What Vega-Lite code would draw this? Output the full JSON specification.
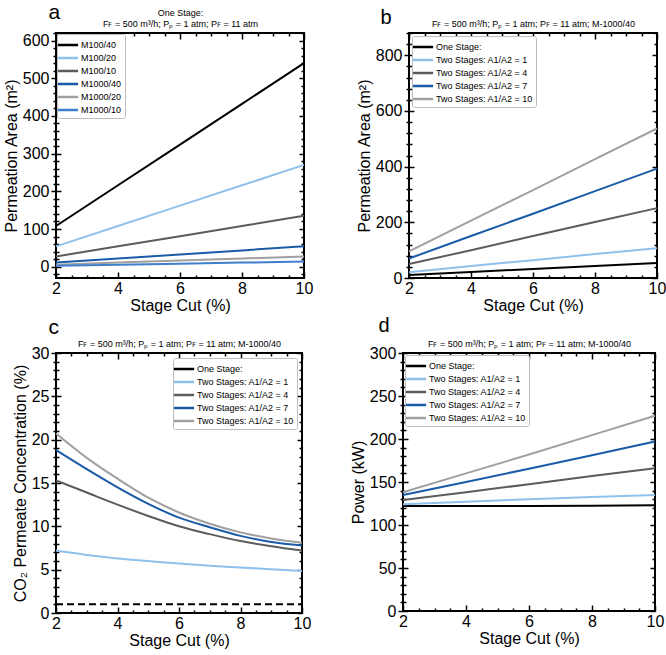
{
  "$schema": "https://vega.github.io/schema/vega-lite/v6.json",
  "padding": {"left": 2, "top": 0, "right": 0, "bottom": 0},
  "background": "white",
  "datasets": {
    "pa": [
      {"x": 2, "s": "M100/40", "y": 108}, {"x": 4, "s": "M100/40", "y": 216}, {"x": 6, "s": "M100/40", "y": 324}, {"x": 8, "s": "M100/40", "y": 432}, {"x": 10, "s": "M100/40", "y": 540},
      {"x": 2, "s": "M100/20", "y": 54}, {"x": 4, "s": "M100/20", "y": 108}, {"x": 6, "s": "M100/20", "y": 162}, {"x": 8, "s": "M100/20", "y": 216}, {"x": 10, "s": "M100/20", "y": 270},
      {"x": 2, "s": "M100/10", "y": 27}, {"x": 4, "s": "M100/10", "y": 54}, {"x": 6, "s": "M100/10", "y": 81}, {"x": 8, "s": "M100/10", "y": 108}, {"x": 10, "s": "M100/10", "y": 135},
      {"x": 2, "s": "M1000/40", "y": 10.8}, {"x": 4, "s": "M1000/40", "y": 21.6}, {"x": 6, "s": "M1000/40", "y": 32.4}, {"x": 8, "s": "M1000/40", "y": 43.2}, {"x": 10, "s": "M1000/40", "y": 54},
      {"x": 2, "s": "M1000/20", "y": 5.4}, {"x": 4, "s": "M1000/20", "y": 10.8}, {"x": 6, "s": "M1000/20", "y": 16.2}, {"x": 8, "s": "M1000/20", "y": 21.6}, {"x": 10, "s": "M1000/20", "y": 27},
      {"x": 2, "s": "M1000/10", "y": 2.7}, {"x": 4, "s": "M1000/10", "y": 5.4}, {"x": 6, "s": "M1000/10", "y": 8.1}, {"x": 8, "s": "M1000/10", "y": 10.8}, {"x": 10, "s": "M1000/10", "y": 13.5}
    ],
    "pb": [
      {"x": 2, "s": "One Stage:", "y": 10.8}, {"x": 4, "s": "One Stage:", "y": 21.6}, {"x": 6, "s": "One Stage:", "y": 32.4}, {"x": 8, "s": "One Stage:", "y": 43.2}, {"x": 10, "s": "One Stage:", "y": 54},
      {"x": 2, "s": "Two Stages: A1/A2 = 1", "y": 21}, {"x": 4, "s": "Two Stages: A1/A2 = 1", "y": 43}, {"x": 6, "s": "Two Stages: A1/A2 = 1", "y": 64}, {"x": 8, "s": "Two Stages: A1/A2 = 1", "y": 86}, {"x": 10, "s": "Two Stages: A1/A2 = 1", "y": 107},
      {"x": 2, "s": "Two Stages: A1/A2 = 4", "y": 50}, {"x": 4, "s": "Two Stages: A1/A2 = 4", "y": 100}, {"x": 6, "s": "Two Stages: A1/A2 = 4", "y": 151}, {"x": 8, "s": "Two Stages: A1/A2 = 4", "y": 201}, {"x": 10, "s": "Two Stages: A1/A2 = 4", "y": 251},
      {"x": 2, "s": "Two Stages: A1/A2 = 7", "y": 70}, {"x": 4, "s": "Two Stages: A1/A2 = 7", "y": 151}, {"x": 6, "s": "Two Stages: A1/A2 = 7", "y": 231}, {"x": 8, "s": "Two Stages: A1/A2 = 7", "y": 312}, {"x": 10, "s": "Two Stages: A1/A2 = 7", "y": 393},
      {"x": 2, "s": "Two Stages: A1/A2 = 10", "y": 96}, {"x": 4, "s": "Two Stages: A1/A2 = 10", "y": 206}, {"x": 6, "s": "Two Stages: A1/A2 = 10", "y": 316}, {"x": 8, "s": "Two Stages: A1/A2 = 10", "y": 427}, {"x": 10, "s": "Two Stages: A1/A2 = 10", "y": 537}
    ],
    "pc": [
      {"x": 2, "s": "Two Stages: A1/A2 = 1", "y": 7.2}, {"x": 3, "s": "Two Stages: A1/A2 = 1", "y": 6.7}, {"x": 4, "s": "Two Stages: A1/A2 = 1", "y": 6.3}, {"x": 5, "s": "Two Stages: A1/A2 = 1", "y": 6.0}, {"x": 6, "s": "Two Stages: A1/A2 = 1", "y": 5.7}, {"x": 7, "s": "Two Stages: A1/A2 = 1", "y": 5.45}, {"x": 8, "s": "Two Stages: A1/A2 = 1", "y": 5.25}, {"x": 9, "s": "Two Stages: A1/A2 = 1", "y": 5.05}, {"x": 10, "s": "Two Stages: A1/A2 = 1", "y": 4.85},
      {"x": 2, "s": "Two Stages: A1/A2 = 4", "y": 15.3}, {"x": 3, "s": "Two Stages: A1/A2 = 4", "y": 13.9}, {"x": 4, "s": "Two Stages: A1/A2 = 4", "y": 12.5}, {"x": 5, "s": "Two Stages: A1/A2 = 4", "y": 11.2}, {"x": 6, "s": "Two Stages: A1/A2 = 4", "y": 10.0}, {"x": 7, "s": "Two Stages: A1/A2 = 4", "y": 9.1}, {"x": 8, "s": "Two Stages: A1/A2 = 4", "y": 8.3}, {"x": 9, "s": "Two Stages: A1/A2 = 4", "y": 7.7}, {"x": 10, "s": "Two Stages: A1/A2 = 4", "y": 7.2},
      {"x": 2, "s": "Two Stages: A1/A2 = 7", "y": 18.8}, {"x": 3, "s": "Two Stages: A1/A2 = 7", "y": 16.6}, {"x": 4, "s": "Two Stages: A1/A2 = 7", "y": 14.5}, {"x": 5, "s": "Two Stages: A1/A2 = 7", "y": 12.6}, {"x": 6, "s": "Two Stages: A1/A2 = 7", "y": 11.0}, {"x": 7, "s": "Two Stages: A1/A2 = 7", "y": 9.9}, {"x": 8, "s": "Two Stages: A1/A2 = 7", "y": 8.9}, {"x": 9, "s": "Two Stages: A1/A2 = 7", "y": 8.2}, {"x": 10, "s": "Two Stages: A1/A2 = 7", "y": 7.8},
      {"x": 2, "s": "Two Stages: A1/A2 = 10", "y": 20.7}, {"x": 3, "s": "Two Stages: A1/A2 = 10", "y": 17.9}, {"x": 4, "s": "Two Stages: A1/A2 = 10", "y": 15.5}, {"x": 5, "s": "Two Stages: A1/A2 = 10", "y": 13.3}, {"x": 6, "s": "Two Stages: A1/A2 = 10", "y": 11.6}, {"x": 7, "s": "Two Stages: A1/A2 = 10", "y": 10.3}, {"x": 8, "s": "Two Stages: A1/A2 = 10", "y": 9.3}, {"x": 9, "s": "Two Stages: A1/A2 = 10", "y": 8.6}, {"x": 10, "s": "Two Stages: A1/A2 = 10", "y": 8.1}
    ],
    "pcref": [
      {"x": 2, "y": 1.0}, {"x": 10, "y": 1.0}
    ],
    "pd": [
      {"x": 2, "s": "One Stage:", "y": 122}, {"x": 4, "s": "One Stage:", "y": 122}, {"x": 6, "s": "One Stage:", "y": 122}, {"x": 8, "s": "One Stage:", "y": 122.5}, {"x": 10, "s": "One Stage:", "y": 123},
      {"x": 2, "s": "Two Stages: A1/A2 = 1", "y": 124}, {"x": 4, "s": "Two Stages: A1/A2 = 1", "y": 127}, {"x": 6, "s": "Two Stages: A1/A2 = 1", "y": 130}, {"x": 8, "s": "Two Stages: A1/A2 = 1", "y": 132.5}, {"x": 10, "s": "Two Stages: A1/A2 = 1", "y": 135},
      {"x": 2, "s": "Two Stages: A1/A2 = 4", "y": 129}, {"x": 4, "s": "Two Stages: A1/A2 = 4", "y": 138}, {"x": 6, "s": "Two Stages: A1/A2 = 4", "y": 147.5}, {"x": 8, "s": "Two Stages: A1/A2 = 4", "y": 157}, {"x": 10, "s": "Two Stages: A1/A2 = 4", "y": 166},
      {"x": 2, "s": "Two Stages: A1/A2 = 7", "y": 135}, {"x": 4, "s": "Two Stages: A1/A2 = 7", "y": 150}, {"x": 6, "s": "Two Stages: A1/A2 = 7", "y": 165.5}, {"x": 8, "s": "Two Stages: A1/A2 = 7", "y": 181}, {"x": 10, "s": "Two Stages: A1/A2 = 7", "y": 197},
      {"x": 2, "s": "Two Stages: A1/A2 = 10", "y": 138}, {"x": 4, "s": "Two Stages: A1/A2 = 10", "y": 160}, {"x": 6, "s": "Two Stages: A1/A2 = 10", "y": 182}, {"x": 8, "s": "Two Stages: A1/A2 = 10", "y": 204.5}, {"x": 10, "s": "Two Stages: A1/A2 = 10", "y": 227}
    ]
  },
  "resolve": {"scale": {"color": "independent"}, "legend": {"color": "independent"}},
  "spacing": 0,
  "vconcat": [
    {
      "resolve": {"scale": {"color": "independent"}, "legend": {"color": "independent"}},
      "spacing": 41,
      "hconcat": [
        {
          "width": 248, "height": 245,
          "data": {"name": "pa"},
          "resolve": {"axis": {"x": "independent", "y": "independent"}},
          "layer": [
            {
              "mark": {"type": "line", "strokeWidth": 2},
              "encoding": {
                "x": {"field": "x", "type": "quantitative", "scale": {"domain": [2, 10], "nice": false},
                  "axis": {"title": "Stage Cut (%)", "values": [2, 2.5, 3, 3.5, 4, 4.5, 5, 5.5, 6, 6.5, 7, 7.5, 8, 8.5, 9, 9.5, 10], "labelExpr": "datum.value % 2 === 0 ? format(datum.value, 'd') : ''", "ticks": false, "labelPadding": 2, "titlePadding": 1}},
                "y": {"field": "y", "type": "quantitative", "scale": {"domain": [-30, 620], "nice": false, "zero": false},
                  "axis": {"title": "Permeation Area (m²)", "values": [-20, 0, 20, 40, 60, 80, 100, 120, 140, 160, 180, 200, 220, 240, 260, 280, 300, 320, 340, 360, 380, 400, 420, 440, 460, 480, 500, 520, 540, 560, 580, 600, 620], "labelExpr": "datum.value % 100 === 0 ? datum.label : ''", "tickSize": {"condition": {"test": "datum.value % 100 === 0", "value": 5}, "value": 3}}},
                "color": {"field": "s", "type": "nominal", "sort": null,
                  "scale": {"domain": ["M100/40", "M100/20", "M100/10", "M1000/40", "M1000/20", "M1000/10"], "range": ["#000000", "#8fc1ec", "#5c5c5c", "#1a5ba8", "#a0a0a0", "#3f7fcc"]},
                  "legend": {"orient": "top-left", "offset": 1}}
              }
            },
            {
              "mark": {"type": "line", "opacity": 0},
              "encoding": {
                "detail": {"field": "s"},
                "x": {"field": "x", "type": "quantitative", "axis": {"orient": "bottom", "labels": false, "domain": false, "title": null, "values": [2, 2.5, 3, 3.5, 4, 4.5, 5, 5.5, 6, 6.5, 7, 7.5, 8, 8.5, 9, 9.5, 10], "tickSize": {"condition": {"test": "datum.value % 2 === 0", "value": -6}, "value": -3}}},
                "y": {"field": "y", "type": "quantitative", "axis": {"orient": "left", "labels": false, "domain": false, "title": null, "values": [-20, 0, 20, 40, 60, 80, 100, 120, 140, 160, 180, 200, 220, 240, 260, 280, 300, 320, 340, 360, 380, 400, 420, 440, 460, 480, 500, 520, 540, 560, 580, 600, 620], "tickSize": {"condition": {"test": "datum.value % 100 === 0", "value": -5}, "value": -3}}}
              }
            },
            {
              "mark": {"type": "line", "opacity": 0},
              "encoding": {
                "detail": {"field": "s"},
                "x": {"field": "x", "type": "quantitative", "axis": {"orient": "top", "labels": false, "domain": false, "title": ["One Stage:", "Fꜰ = 500 m³/h; Pₚ = 1 atm; Pꜰ = 11 atm"], "titleFontSize": 9, "titleLineHeight": 11, "titlePadding": 4, "values": [2, 2.5, 3, 3.5, 4, 4.5, 5, 5.5, 6, 6.5, 7, 7.5, 8, 8.5, 9, 9.5, 10], "tickSize": {"condition": {"test": "datum.value % 2 === 0", "value": -6}, "value": -3}}},
                "y": {"field": "y", "type": "quantitative", "axis": {"orient": "right", "labels": false, "domain": false, "title": null, "values": [-20, 0, 20, 40, 60, 80, 100, 120, 140, 160, 180, 200, 220, 240, 260, 280, 300, 320, 340, 360, 380, 400, 420, 440, 460, 480, 500, 520, 540, 560, 580, 600, 620], "tickSize": {"condition": {"test": "datum.value % 100 === 0", "value": -5}, "value": -3}}}
              }
            },
            {
              "mark": {"type": "line", "opacity": 0},
              "encoding": {
                "detail": {"field": "s"},
                "x": {"field": "x", "type": "quantitative", "axis": {"orient": "top", "labels": false, "ticks": false, "domain": false, "title": "a", "titleX": -8, "titleY": -15, "titleAlign": "left", "titleBaseline": "alphabetic", "titleAngle": 0, "titleFontSize": 21}},
                "y": {"field": "y", "type": "quantitative", "axis": null}
              }
            }
          ]
        },
        {
          "width": 248, "height": 245,
          "data": {"name": "pb"},
          "resolve": {"axis": {"x": "independent", "y": "independent"}},
          "layer": [
            {
              "mark": {"type": "line", "strokeWidth": 2},
              "encoding": {
                "x": {"field": "x", "type": "quantitative", "scale": {"domain": [2, 10], "nice": false},
                  "axis": {"title": "Stage Cut (%)", "values": [2, 2.5, 3, 3.5, 4, 4.5, 5, 5.5, 6, 6.5, 7, 7.5, 8, 8.5, 9, 9.5, 10], "labelExpr": "datum.value % 2 === 0 ? format(datum.value, 'd') : ''", "ticks": false, "labelPadding": 2, "titlePadding": 1}},
                "y": {"field": "y", "type": "quantitative", "scale": {"domain": [0, 880], "nice": false},
                  "axis": {"title": "Permeation Area (m²)", "values": [0, 40, 80, 120, 160, 200, 240, 280, 320, 360, 400, 440, 480, 520, 560, 600, 640, 680, 720, 760, 800, 840, 880], "labelExpr": "datum.value % 200 === 0 ? datum.label : ''", "tickSize": {"condition": {"test": "datum.value % 200 === 0", "value": 5}, "value": 3}}},
                "color": {"field": "s", "type": "nominal", "sort": null,
                  "scale": {"domain": ["One Stage:", "Two Stages: A1/A2 = 1", "Two Stages: A1/A2 = 4", "Two Stages: A1/A2 = 7", "Two Stages: A1/A2 = 10"], "range": ["#000000", "#8fc1ec", "#5c5c5c", "#1a5ba8", "#a0a0a0"]},
                  "legend": {"orient": "top-left", "offset": 3}}
              }
            },
            {
              "mark": {"type": "line", "opacity": 0},
              "encoding": {
                "detail": {"field": "s"},
                "x": {"field": "x", "type": "quantitative", "axis": {"orient": "bottom", "labels": false, "domain": false, "title": null, "values": [2, 2.5, 3, 3.5, 4, 4.5, 5, 5.5, 6, 6.5, 7, 7.5, 8, 8.5, 9, 9.5, 10], "tickSize": {"condition": {"test": "datum.value % 2 === 0", "value": -6}, "value": -3}}},
                "y": {"field": "y", "type": "quantitative", "axis": {"orient": "left", "labels": false, "domain": false, "title": null, "values": [0, 40, 80, 120, 160, 200, 240, 280, 320, 360, 400, 440, 480, 520, 560, 600, 640, 680, 720, 760, 800, 840, 880], "tickSize": {"condition": {"test": "datum.value % 200 === 0", "value": -5}, "value": -3}}}
              }
            },
            {
              "mark": {"type": "line", "opacity": 0},
              "encoding": {
                "detail": {"field": "s"},
                "x": {"field": "x", "type": "quantitative", "axis": {"orient": "top", "labels": false, "domain": false, "title": "Fꜰ = 500 m³/h; Pₚ = 1 atm; Pꜰ = 11 atm; M-1000/40", "titleFontSize": 9, "titlePadding": 4, "values": [2, 2.5, 3, 3.5, 4, 4.5, 5, 5.5, 6, 6.5, 7, 7.5, 8, 8.5, 9, 9.5, 10], "tickSize": {"condition": {"test": "datum.value % 2 === 0", "value": -6}, "value": -3}}},
                "y": {"field": "y", "type": "quantitative", "axis": {"orient": "right", "labels": false, "domain": false, "title": null, "values": [0, 40, 80, 120, 160, 200, 240, 280, 320, 360, 400, 440, 480, 520, 560, 600, 640, 680, 720, 760, 800, 840, 880], "tickSize": {"condition": {"test": "datum.value % 200 === 0", "value": -5}, "value": -3}}}
              }
            },
            {
              "mark": {"type": "line", "opacity": 0},
              "encoding": {
                "detail": {"field": "s"},
                "x": {"field": "x", "type": "quantitative", "axis": {"orient": "top", "labels": false, "ticks": false, "domain": false, "title": "b", "titleX": -29, "titleY": -10, "titleAlign": "left", "titleBaseline": "alphabetic", "titleAngle": 0, "titleFontSize": 20}},
                "y": {"field": "y", "type": "quantitative", "axis": null}
              }
            }
          ]
        }
      ]
    },
    {
      "resolve": {"scale": {"color": "independent"}, "legend": {"color": "independent"}},
      "spacing": 37,
      "hconcat": [
        {
          "width": 246, "height": 260,
          "resolve": {"axis": {"x": "independent", "y": "independent"}},
          "layer": [
            {
              "data": {"name": "pc"},
              "mark": {"type": "line", "strokeWidth": 2, "interpolate": "monotone"},
              "encoding": {
                "x": {"field": "x", "type": "quantitative", "scale": {"domain": [2, 10], "nice": false},
                  "axis": {"title": "Stage Cut (%)", "values": [2, 2.5, 3, 3.5, 4, 4.5, 5, 5.5, 6, 6.5, 7, 7.5, 8, 8.5, 9, 9.5, 10], "labelExpr": "datum.value % 2 === 0 ? format(datum.value, 'd') : ''", "ticks": false, "labelPadding": 2, "titlePadding": 1}},
                "y": {"field": "y", "type": "quantitative", "scale": {"domain": [0, 30], "nice": false},
                  "axis": {"title": "CO₂ Permeate Concentration (%)", "values": [0, 1, 2, 3, 4, 5, 6, 7, 8, 9, 10, 11, 12, 13, 14, 15, 16, 17, 18, 19, 20, 21, 22, 23, 24, 25, 26, 27, 28, 29, 30], "labelExpr": "datum.value % 5 === 0 ? datum.label : ''", "tickSize": {"condition": {"test": "datum.value % 5 === 0", "value": 5}, "value": 3}}},
                "color": {"field": "s", "type": "nominal", "sort": null,
                  "scale": {"domain": ["One Stage:", "Two Stages: A1/A2 = 1", "Two Stages: A1/A2 = 4", "Two Stages: A1/A2 = 7", "Two Stages: A1/A2 = 10"], "range": ["#000000", "#8fc1ec", "#5c5c5c", "#1a5ba8", "#a0a0a0"]},
                  "legend": {"orient": "top-right", "offset": 5}}
              }
            },
            {
              "data": {"name": "pcref"},
              "mark": {"type": "line", "strokeWidth": 2, "color": "black", "strokeDash": [7, 4]},
              "encoding": {
                "x": {"field": "x", "type": "quantitative", "axis": null},
                "y": {"field": "y", "type": "quantitative", "axis": null}
              }
            },
            {
              "data": {"name": "pc"},
              "mark": {"type": "line", "opacity": 0},
              "encoding": {
                "detail": {"field": "s"},
                "x": {"field": "x", "type": "quantitative", "axis": {"orient": "bottom", "labels": false, "domain": false, "title": null, "values": [2, 2.5, 3, 3.5, 4, 4.5, 5, 5.5, 6, 6.5, 7, 7.5, 8, 8.5, 9, 9.5, 10], "tickSize": {"condition": {"test": "datum.value % 2 === 0", "value": -6}, "value": -3}}},
                "y": {"field": "y", "type": "quantitative", "axis": {"orient": "left", "labels": false, "domain": false, "title": null, "values": [0, 1, 2, 3, 4, 5, 6, 7, 8, 9, 10, 11, 12, 13, 14, 15, 16, 17, 18, 19, 20, 21, 22, 23, 24, 25, 26, 27, 28, 29, 30], "tickSize": {"condition": {"test": "datum.value % 5 === 0", "value": -5}, "value": -3}}}
              }
            },
            {
              "data": {"name": "pc"},
              "mark": {"type": "line", "opacity": 0},
              "encoding": {
                "detail": {"field": "s"},
                "x": {"field": "x", "type": "quantitative", "axis": {"orient": "top", "labels": false, "domain": false, "title": "Fꜰ = 500 m³/h; Pₚ = 1 atm; Pꜰ = 11 atm; M-1000/40", "titleFontSize": 9, "titlePadding": 4, "values": [2, 2.5, 3, 3.5, 4, 4.5, 5, 5.5, 6, 6.5, 7, 7.5, 8, 8.5, 9, 9.5, 10], "tickSize": {"condition": {"test": "datum.value % 2 === 0", "value": -6}, "value": -3}}},
                "y": {"field": "y", "type": "quantitative", "axis": {"orient": "right", "labels": false, "domain": false, "title": null, "values": [0, 1, 2, 3, 4, 5, 6, 7, 8, 9, 10, 11, 12, 13, 14, 15, 16, 17, 18, 19, 20, 21, 22, 23, 24, 25, 26, 27, 28, 29, 30], "tickSize": {"condition": {"test": "datum.value % 5 === 0", "value": -5}, "value": -3}}}
              }
            },
            {
              "data": {"name": "pc"},
              "mark": {"type": "line", "opacity": 0},
              "encoding": {
                "detail": {"field": "s"},
                "x": {"field": "x", "type": "quantitative", "axis": {"orient": "top", "labels": false, "ticks": false, "domain": false, "title": "c", "titleX": -8, "titleY": -20, "titleAlign": "left", "titleBaseline": "alphabetic", "titleAngle": 0, "titleFontSize": 21}},
                "y": {"field": "y", "type": "quantitative", "axis": null}
              }
            }
          ]
        },
        {
          "width": 252, "height": 258,
          "data": {"name": "pd"},
          "resolve": {"axis": {"x": "independent", "y": "independent"}},
          "layer": [
            {
              "mark": {"type": "line", "strokeWidth": 2},
              "encoding": {
                "x": {"field": "x", "type": "quantitative", "scale": {"domain": [2, 10], "nice": false},
                  "axis": {"title": "Stage Cut (%)", "values": [2, 2.5, 3, 3.5, 4, 4.5, 5, 5.5, 6, 6.5, 7, 7.5, 8, 8.5, 9, 9.5, 10], "labelExpr": "datum.value % 2 === 0 ? format(datum.value, 'd') : ''", "ticks": false, "labelPadding": 2, "titlePadding": 1}},
                "y": {"field": "y", "type": "quantitative", "scale": {"domain": [0, 300], "nice": false},
                  "axis": {"title": "Power (kW)", "values": [0, 10, 20, 30, 40, 50, 60, 70, 80, 90, 100, 110, 120, 130, 140, 150, 160, 170, 180, 190, 200, 210, 220, 230, 240, 250, 260, 270, 280, 290, 300], "labelExpr": "datum.value % 50 === 0 ? datum.label : ''", "tickSize": {"condition": {"test": "datum.value % 50 === 0", "value": 5}, "value": 3}}},
                "color": {"field": "s", "type": "nominal", "sort": null,
                  "scale": {"domain": ["One Stage:", "Two Stages: A1/A2 = 1", "Two Stages: A1/A2 = 4", "Two Stages: A1/A2 = 7", "Two Stages: A1/A2 = 10"], "range": ["#000000", "#8fc1ec", "#5c5c5c", "#1a5ba8", "#a0a0a0"]},
                  "legend": {"orient": "top-left", "offset": 2}}
              }
            },
            {
              "mark": {"type": "line", "opacity": 0},
              "encoding": {
                "detail": {"field": "s"},
                "x": {"field": "x", "type": "quantitative", "axis": {"orient": "bottom", "labels": false, "domain": false, "title": null, "values": [2, 2.5, 3, 3.5, 4, 4.5, 5, 5.5, 6, 6.5, 7, 7.5, 8, 8.5, 9, 9.5, 10], "tickSize": {"condition": {"test": "datum.value % 2 === 0", "value": -6}, "value": -3}}},
                "y": {"field": "y", "type": "quantitative", "axis": {"orient": "left", "labels": false, "domain": false, "title": null, "values": [0, 10, 20, 30, 40, 50, 60, 70, 80, 90, 100, 110, 120, 130, 140, 150, 160, 170, 180, 190, 200, 210, 220, 230, 240, 250, 260, 270, 280, 290, 300], "tickSize": {"condition": {"test": "datum.value % 50 === 0", "value": -5}, "value": -3}}}
              }
            },
            {
              "mark": {"type": "line", "opacity": 0},
              "encoding": {
                "detail": {"field": "s"},
                "x": {"field": "x", "type": "quantitative", "axis": {"orient": "top", "labels": false, "domain": false, "title": "Fꜰ = 500 m³/h; Pₚ = 1 atm; Pꜰ = 11 atm; M-1000/40", "titleFontSize": 9, "titlePadding": 4, "values": [2, 2.5, 3, 3.5, 4, 4.5, 5, 5.5, 6, 6.5, 7, 7.5, 8, 8.5, 9, 9.5, 10], "tickSize": {"condition": {"test": "datum.value % 2 === 0", "value": -6}, "value": -3}}},
                "y": {"field": "y", "type": "quantitative", "axis": {"orient": "right", "labels": false, "domain": false, "title": null, "values": [0, 10, 20, 30, 40, 50, 60, 70, 80, 90, 100, 110, 120, 130, 140, 150, 160, 170, 180, 190, 200, 210, 220, 230, 240, 250, 260, 270, 280, 290, 300], "tickSize": {"condition": {"test": "datum.value % 50 === 0", "value": -5}, "value": -3}}}
              }
            },
            {
              "mark": {"type": "line", "opacity": 0},
              "encoding": {
                "detail": {"field": "s"},
                "x": {"field": "x", "type": "quantitative", "axis": {"orient": "top", "labels": false, "ticks": false, "domain": false, "title": "d", "titleX": -25, "titleY": -22, "titleAlign": "left", "titleBaseline": "alphabetic", "titleAngle": 0, "titleFontSize": 20}},
                "y": {"field": "y", "type": "quantitative", "axis": null}
              }
            }
          ]
        }
      ]
    }
  ],
  "config": {
    "font": "Liberation Sans",
    "view": {"stroke": "black", "strokeWidth": 2},
    "title": {"color": "black", "font": "Liberation Sans"},
    "axis": {
      "grid": false, "domain": false, "labelFontSize": 16, "titleFontSize": 16, "titleFontWeight": "normal",
      "labelColor": "black", "titleColor": "black", "tickColor": "black", "tickWidth": 1.5,
      "labelFlush": false, "labelOverlap": false, "labelFont": "Liberation Sans", "titleFont": "Liberation Sans", "titlePadding": 3
    },
    "legend": {
      "title": null, "fillColor": "white", "strokeColor": "#bdbdbd", "padding": 3,
      "symbolType": "M-1.6,0H1.6", "symbolSize": 160, "symbolStrokeWidth": 2.5, "labelFontSize": 9, "labelFont": "Liberation Sans",
      "labelColor": "black", "rowPadding": 0, "labelOffset": 5, "cornerRadius": 2
    }
  }
}
